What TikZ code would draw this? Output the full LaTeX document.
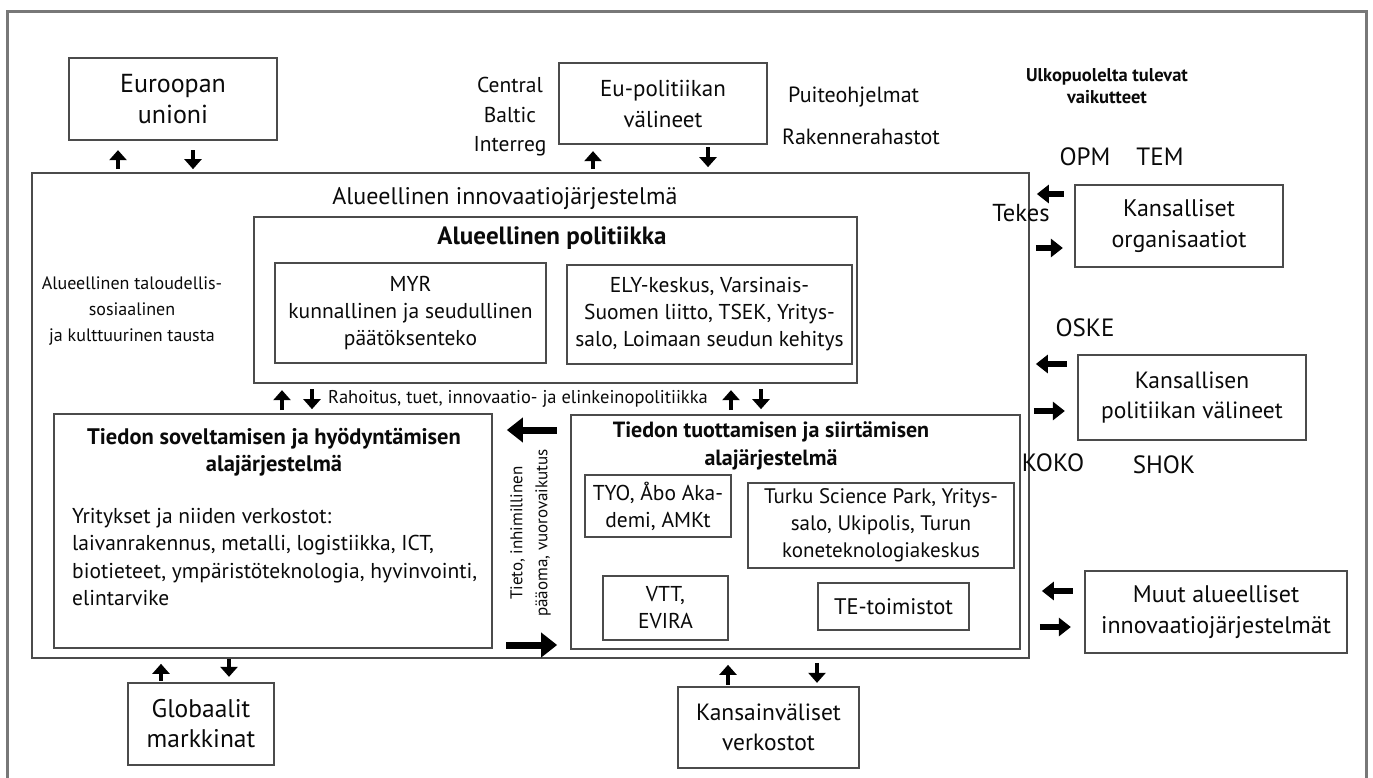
\documentclass[tikz,border=0pt]{standalone}
\usepackage{fontspec}
\setmainfont{PT Sans}
\usetikzlibrary{arrows.meta}
\definecolor{boxc}{RGB}{75,75,75}
\definecolor{framec}{RGB}{120,120,120}
\definecolor{txt}{RGB}{10,10,10}
\newcommand\myBig{\fontsize{24}{31}\selectfont}
\newcommand\myMid{\fontsize{21.5}{27}\selectfont}
\newcommand\myCB{\fontsize{21.5}{29.5}\selectfont}
\newcommand\mySm{\fontsize{18}{26}\selectfont}
\newcommand\myRot{\fontsize{17}{25}\selectfont}
\newcommand\myTitle{\fontsize{24}{28}\selectfont}
\newcommand\myBold{\fontsize{22}{27.5}\selectfont\bfseries}
\newcommand\myTiny{\fontsize{18.5}{22}\selectfont\bfseries}
\newcommand\myAbbr{\fontsize{25}{30}\selectfont}
\begin{document}
\begin{tikzpicture}[x=1pt,y=-1pt,
  rbox/.style={draw=boxc, line width=2.3pt, inner sep=0pt, align=center, text=txt},
  lbl/.style={inner sep=0pt, text=txt, align=center},
  varr/.style={line width=4.6pt, -{Triangle[width=17pt,length=10pt]}},
  harr/.style={line width=5.5pt, -{Triangle[width=18pt,length=12pt]}},
  barr/.style={line width=7pt, -{Triangle[width=24pt,length=16pt]}}]
\useasboundingbox (0,0) rectangle (1373,778);
\clip (0,0) rectangle (1373,778);
\fill[white] (0,0) rectangle (1373,778);
% outer frame (open at the bottom)
\draw[framec, line width=3pt] (7,800) -- (7,12) -- (1366,12) -- (1366,800);

% top boxes
\node[rbox, minimum width=208pt, minimum height=82pt, font=\fontsize{26}{31}\selectfont] (eu) at (173,99) {Euroopan\\unioni};
\node[rbox, minimum width=208pt, minimum height=81pt, font=\fontsize{23}{31}\selectfont] (eup) at (663,103.5) {Eu-politiikan\\välineet};
\node[lbl, font=\myCB] (cbi) at (510,117) {Central\\Baltic\\Interreg};
\node[lbl, font=\fontsize{22}{26}\selectfont, anchor=west] (puite) at (788,97) {Puiteohjelmat};
\node[lbl, font=\fontsize{22}{26}\selectfont, anchor=west] (rakenne) at (782,137) {Rakennerahastot};
\node[lbl, font=\myTiny] (ulko) at (1107,86) {Ulkopuolelta tulevat\\vaikutteet};
\node[lbl, font=\myAbbr] (opm) at (1085,157) {OPM};
\node[lbl, font=\myAbbr] (tem) at (1160,157) {TEM};

% regional innovation system frame
\node[rbox, minimum width=997pt, minimum height=485pt] (ris) at (530.5,415.5) {};
\node[lbl, font=\myTitle] (ristitle) at (505,199) {Alueellinen innovaatiojärjestelmä};
\node[lbl, font=\mySm] (tausta) at (132,311) {Alueellinen taloudellis-\\sosiaalinen\\ja kulttuurinen tausta};

% regional policy
\node[rbox, minimum width=603pt, minimum height=166pt] (alpol) at (555.5,300) {};
\node[lbl, font=\fontsize{25}{28}\selectfont\bfseries] (alpoltitle) at (552,238) {Alueellinen politiikka};
\node[rbox, minimum width=271pt, minimum height=100pt, font=\myMid] (myr) at (410.5,313) {MYR\\kunnallinen ja seudullinen\\päätöksenteko};
\node[rbox, minimum width=285pt, minimum height=99pt, font=\myMid] (ely) at (709.5,314.5) {ELY-keskus, Varsinais-\\Suomen liitto, TSEK, Yritys-\\salo, Loimaan seudun kehitys};
\node[lbl, font=\fontsize{18.5}{24}\selectfont, anchor=west] (rahoitus) at (328,399) {Rahoitus, tuet, innovaatio- ja elinkeinopolitiikka};

% knowledge application subsystem
\node[rbox, minimum width=438pt, minimum height=234pt] (sov) at (273,531) {};
\node[lbl, font=\fontsize{22.5}{27.5}\selectfont\bfseries] (sovtitle) at (274,452) {Tiedon soveltamisen ja hyödyntämisen\\alajärjestelmä};
\node[lbl, font=\fontsize{21.5}{27.5}\selectfont, align=left, anchor=north west] (sovbody) at (72,508) {Yritykset ja niiden verkostot:\\laivanrakennus, metalli, logistiikka, ICT,\\biotieteet, ympäristöteknologia, hyvinvointi,\\elintarvike};

% knowledge production subsystem
\node[rbox, minimum width=449pt, minimum height=234pt] (tuo) at (795.5,532) {};
\node[lbl, font=\myBold] (tuotitle) at (771,446) {Tiedon tuottamisen ja siirtämisen\\alajärjestelmä};
\node[rbox, minimum width=146pt, minimum height=62pt, font=\myMid] (tyo) at (658,506) {TYO, Åbo Aka-\\demi, AMKt};
\node[rbox, minimum width=266pt, minimum height=85pt, font=\fontsize{21}{27}\selectfont] (tsp) at (881,525.5) {Turku Science Park, Yritys-\\salo, Ukipolis, Turun\\koneteknologiakeskus};
\node[rbox, minimum width=125pt, minimum height=64pt, font=\myMid] (vtt) at (665.5,608) {VTT,\\EVIRA};
\node[rbox, minimum width=151pt, minimum height=47pt, font=\fontsize{22.5}{27}\selectfont] (te) at (893.5,606.5) {TE-toimistot};

% flows between subsystems
\node[lbl, rotate=90, font=\myRot] (flow) at (530.5,533) {Tieto, inhimillinen\\pääoma, vuorovaikutus};
\draw[barr] (tuo.west) ++(-13,-102) -- ++(-50,0);
\draw[barr] (sov.east) ++(13,114) -- ++(51,0);

% right side
\node[lbl, font=\fontsize{24.5}{28}\selectfont] (tekes) at (1021,213) {Tekes};
\node[rbox, minimum width=208pt, minimum height=82pt, font=\myBig] (kansorg) at (1179,226) {Kansalliset\\organisaatiot};
\node[lbl, font=\myAbbr] (oske) at (1085,328) {OSKE};
\node[rbox, minimum width=228pt, minimum height=85pt, font=\fontsize{23.5}{30}\selectfont] (kpol) at (1192,397.5) {Kansallisen\\politiikan välineet};
\node[lbl, font=\myAbbr] (koko) at (1053,463) {KOKO};
\node[lbl, font=\myAbbr] (shok) at (1164,465) {SHOK};
\node[rbox, minimum width=262pt, minimum height=82pt, font=\myBig] (muut) at (1216,612) {Muut alueelliset\\innovaatiojärjestelmät};

% bottom boxes
\node[rbox, minimum width=146pt, minimum height=82pt, font=\fontsize{25.5}{30}\selectfont] (glob) at (201,724) {Globaalit\\markkinat};
\node[rbox, minimum width=181pt, minimum height=81pt, font=\fontsize{23.5}{30}\selectfont] (kv) at (768.5,727.5) {Kansainväliset\\verkostot};

% small arrows
\draw[varr] (eu.south) ++(-55,28) -- ++(0,-19);
\draw[varr] (eu.south) ++(20,9) -- ++(0,19);
\draw[varr] (eup.south) ++(-70,24) -- ++(0,-18);
\draw[varr] (eup.south) ++(45,2) -- ++(0,20);
\draw[varr] (alpol.south) ++(-273.5,26) -- ++(0,-20);
\draw[varr] (alpol.south) ++(-243.5,5) -- ++(0,20);
\draw[varr] (alpol.south) ++(175.5,26) -- ++(0,-20);
\draw[varr] (alpol.south) ++(205.5,5) -- ++(0,20);
\draw[varr] (glob.north) ++(-40,-1) -- ++(0,-17);
\draw[varr] (glob.north) ++(28,-23) -- ++(0,18);
\draw[varr] (kv.north) ++(-40.5,-1) -- ++(0,-20);
\draw[varr] (kv.north) ++(48.5,-23) -- ++(0,20);
\draw[harr] (kansorg.west) ++(-10,-32) -- ++(-27,0);
\draw[harr] (kansorg.west) ++(-38,22) -- ++(27,0);
\draw[harr] (kpol.west) ++(-10,-33.5) -- ++(-31,0);
\draw[harr] (kpol.west) ++(-43,13.5) -- ++(31,0);
\draw[harr] (muut.west) ++(-11,-21) -- ++(-31,0);
\draw[harr] (muut.west) ++(-44,15) -- ++(31,0);
\end{tikzpicture}
\end{document}
